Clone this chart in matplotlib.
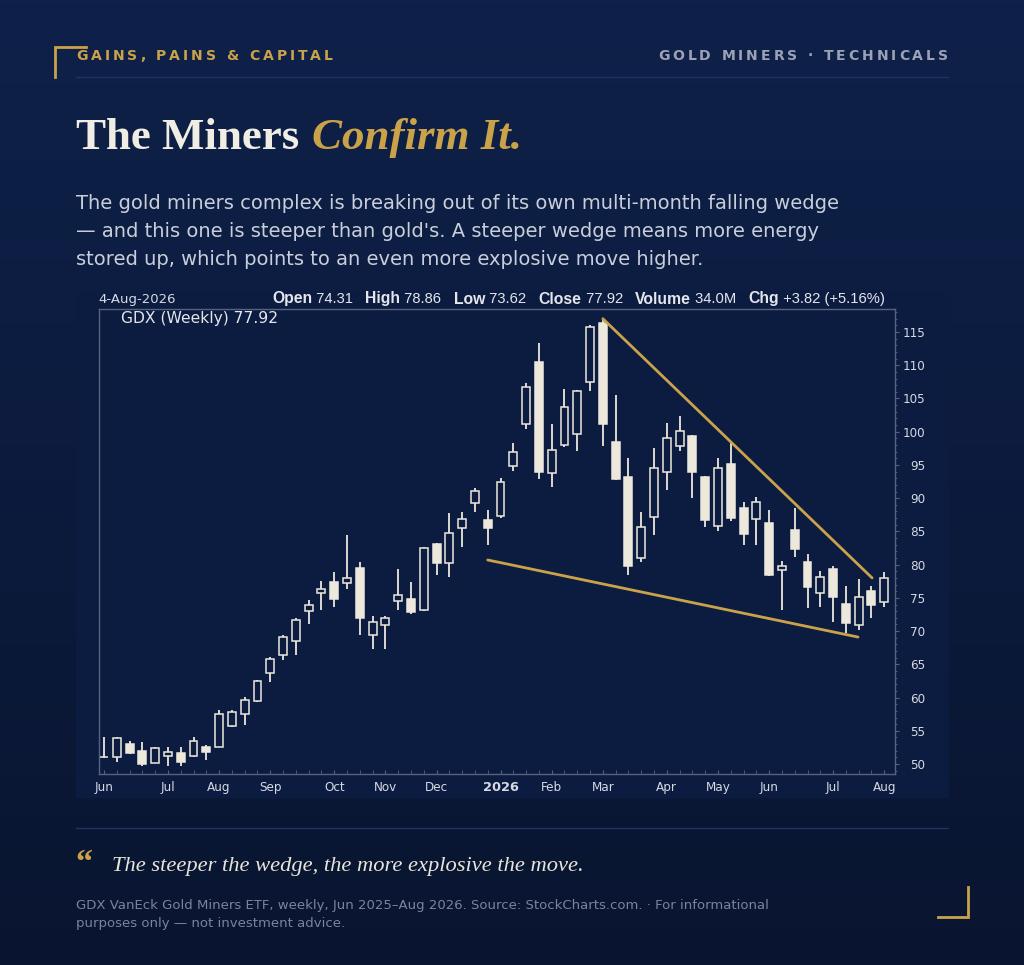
import numpy as np
import pandas as pd
import matplotlib
matplotlib.use("Agg")
import matplotlib.pyplot as plt
from matplotlib.patches import Rectangle

# weekly GDX candles, Jun 2025 - Aug 2026
opens = [51.0, 51.05, 53.0, 52.0, 50.2, 51.2, 51.7, 51.2, 52.6, 52.6,
         55.7, 57.5, 59.5, 63.7, 66.4, 68.5, 73.0, 75.7, 77.4, 77.2,
         79.5, 69.4, 70.9, 74.5, 74.8, 73.2, 83.1, 80.2, 85.5, 89.3,
         86.7, 87.3, 94.8, 101.2, 110.5, 93.8, 98.0, 99.7, 107.5, 116.4,
         98.5, 93.2, 81.0, 87.2, 93.9, 97.8, 99.4, 93.2, 85.8, 95.1,
         88.5, 86.9, 86.3, 79.2, 85.2, 80.4, 75.7, 79.3, 74.1, 70.9,
         76.0, 74.31]
highs = [54.1, 54.1, 53.5, 53.3, 52.5, 52.6, 52.6, 54.1, 52.9, 58.1,
         58.1, 60.1, 62.6, 66.1, 69.4, 72.0, 74.7, 77.5, 78.9, 84.5,
         80.4, 72.3, 72.3, 79.3, 77.4, 82.7, 83.3, 87.8, 87.9, 91.5,
         88.2, 93.0, 98.3, 107.3, 113.3, 101.2, 106.4, 106.3, 116.1, 116.8,
         105.5, 96.0, 87.9, 97.5, 101.3, 102.4, 99.5, 93.3, 96.0, 98.3,
         89.4, 90.2, 88.2, 80.5, 88.5, 81.6, 79.0, 79.8, 76.8, 77.8,
         76.8, 78.86]
lows = [50.9, 50.3, 51.5, 49.7, 50.1, 49.7, 49.7, 51.0, 50.6, 52.5,
        55.5, 55.9, 59.3, 62.3, 65.6, 66.4, 71.1, 73.2, 73.6, 76.3,
        69.4, 67.3, 67.3, 73.2, 72.5, 73.0, 78.4, 78.2, 82.7, 87.9,
        83.0, 87.0, 94.1, 100.4, 92.9, 91.7, 97.7, 97.1, 106.1, 97.8,
        92.7, 78.4, 80.4, 84.5, 91.2, 97.1, 90.0, 85.7, 85.1, 86.6,
        83.0, 83.0, 78.3, 73.2, 81.1, 73.5, 73.6, 71.4, 69.7, 70.2,
        72.0, 73.62]
closes = [51.05, 53.9, 51.6, 50.0, 52.4, 51.8, 50.3, 53.5, 51.8, 57.5,
          57.8, 59.6, 62.5, 65.8, 69.1, 71.7, 73.9, 76.3, 74.8, 78.0,
          72.0, 71.4, 72.0, 75.4, 72.9, 82.5, 80.2, 84.8, 86.9, 91.1,
          85.5, 92.4, 96.9, 106.7, 93.9, 97.2, 103.7, 106.1, 115.8, 101.2,
          92.9, 79.8, 85.7, 94.5, 99.1, 100.1, 93.9, 86.7, 94.5, 87.0,
          84.6, 89.4, 78.4, 79.8, 82.4, 76.6, 78.1, 75.1, 71.2, 75.1,
          73.9, 77.92]
start_week = "2025-06-02"

# falling wedge trendlines (week index, price)
upper_x = [39.0, 60.05]
upper_y = [117.0, 78.0]
lower_x = [30.0, 58.95]
lower_y = [80.7, 69.1]

y_ticks = list(range(50, 120, 5))

info_parts = [("Open", "bold"), (" 74.31   ", "normal"), ("High", "bold"), (" 78.86   ", "normal"),
              ("Low", "bold"), (" 73.62   ", "normal"), ("Close", "bold"), (" 77.92   ", "normal"),
              ("Volume", "bold"), (" 34.0M   ", "normal"), ("Chg", "bold"), (" +3.82 (+5.16%)", "normal")]

body_lines = ["The gold miners complex is breaking out of its own multi-month falling wedge",
              "\u2014 and this one is steeper than gold's. A steeper wedge means more energy",
              "stored up, which points to an even more explosive move higher."]

GOLD = "#c9a24a"
CREAM = "#ece8dc"
PANEL = "#0c1c40"
W, H = 1024, 965
PT = 0.72  # px -> pt at dpi 100

fig = plt.figure(figsize=(W / 100, H / 100), dpi=100)
r = fig.canvas.get_renderer()


def fx(x):
    return x / W


def fy(y):
    return 1 - y / H


def measure(s, **kw):
    t = fig.text(0, 0, s, **kw)
    w = t.get_window_extent(r).width
    t.remove()
    return w


def tracked(x, y, s, px, color, track, ha="left"):
    kw = dict(fontsize=px * PT, fontweight="bold", family="DejaVu Sans")
    space = measure("a a", **kw) - measure("aa", **kw)
    widths = [space if ch == " " else measure(ch, **kw) for ch in s]
    total = sum(widths) + track * (len(s) - 1)
    x0 = x - total if ha == "right" else x
    for ch, w in zip(s, widths):
        if ch != " ":
            fig.text(fx(x0), fy(y), ch, color=color, va="center", ha="left", **kw)
        x0 += w + track


# background
bg = fig.add_axes([0, 0, 1, 1])
bg.set_xlim(0, W)
bg.set_ylim(H, 0)
bg.axis("off")
top = np.array([15, 33, 74]) / 255
bot = np.array([9, 21, 48]) / 255
g = np.linspace(0, 1, 256)[:, None]
grad = (top[None, None, :] * (1 - g[..., None]) + bot[None, None, :] * g[..., None])
grad = np.repeat(grad, 2, axis=1)
bg.imshow(grad, extent=[0, W, H, 0], aspect="auto", zorder=0)
bg.add_patch(Rectangle((76, 292), 872, 505, color=PANEL, zorder=1))
bg.plot([76, 948], [77, 77], color="#22345e", lw=1, zorder=2)
bg.plot([76, 948], [828, 828], color="#22345e", lw=1, zorder=2)
bg.plot([86, 55, 55], [47, 47, 77], color=GOLD, lw=2, solid_joinstyle="miter", zorder=2)
bg.plot([968, 968, 938], [887, 917, 917], color=GOLD, lw=2, solid_joinstyle="miter", zorder=2)

# header
tracked(76, 56, "GAINS, PAINS & CAPITAL", 14, GOLD, 2.9)
tracked(948, 56, "GOLD MINERS \u00b7 TECHNICALS", 14, "#9aa2b6", 2.9, ha="right")

tkw = dict(fontsize=45 * PT, fontweight="bold", family="Liberation Serif")
fig.text(fx(76), fy(149), "The Miners", color="#f0ede5", va="baseline", **tkw)
w1 = measure("The Miners", **tkw)
fig.text(fx(76 + w1 + 13), fy(149), "Confirm It.", color=GOLD, va="baseline",
         style="italic", **tkw)

for k, line in enumerate(body_lines):
    fig.text(fx(76), fy(209 + 28 * k), line, color="#c9ceda", va="baseline",
             fontsize=19.5 * PT, family="DejaVu Sans")

# chart
ax = fig.add_axes([fx(99), fy(774), (895 - 99) / W, (774 - 309) / H])
ax.set_facecolor(PANEL)
n = len(closes)
idx = np.arange(n)
ax.vlines(idx, lows, highs, color=CREAM, lw=1.3, zorder=2)
for i in range(n):
    o, c = opens[i], closes[i]
    up = c >= o
    ax.add_patch(Rectangle((i - 0.31, min(o, c)), 0.62, max(abs(c - o), 0.08),
                           facecolor=PANEL if up else CREAM, edgecolor=CREAM,
                           lw=1.1, zorder=3))
ax.plot(upper_x, upper_y, color=GOLD, lw=2, solid_capstyle="round", zorder=4)
ax.plot(lower_x, lower_y, color=GOLD, lw=2, solid_capstyle="round", zorder=4)

ax.set_xlim(-0.39, 61.84)
ax.set_ylim(48.5, 118.46)
for sp in ax.spines.values():
    sp.set_color("#56627e")
    sp.set_linewidth(1)

ax.yaxis.tick_right()
ax.set_yticks(y_ticks)
ax.set_yticks(np.arange(49, 119, 1), minor=True)
ax.tick_params(axis="y", which="major", direction="out", length=3, color="#56627e",
               pad=18.6, labelsize=12 * PT, labelcolor="#d5d9e2")
ax.tick_params(axis="y", which="minor", direction="out", length=1.5, color="#56627e")
for lab in ax.get_yticklabels():
    lab.set_ha("right")

dates = pd.date_range(start_week, periods=n, freq="W-MON")
month_idx = [0] + [i for i in range(1, n) if dates[i].month != dates[i - 1].month]
month_lab = ["2026" if dates[i].month == 1 else dates[i].strftime("%b") for i in month_idx]
ax.set_xticks(month_idx)
ax.set_xticklabels(month_lab)
ax.set_xticks(idx, minor=True)
ax.tick_params(axis="x", which="both", direction="in", length=3, color="#56627e",
               pad=5, labelsize=12 * PT, labelcolor="#d5d9e2")
for lab in ax.get_xticklabels():
    if lab.get_text() == "2026":
        lab.set_fontweight("bold")
        lab.set_fontsize(13 * PT)

# chart header texts
fig.text(fx(98), fy(299), "4-Aug-2026", color="#d5d9e2", va="center",
         fontsize=13.2 * PT, family="DejaVu Sans")
xx = 272
for s, wt in info_parts:
    kw = dict(fontsize=15.8 * PT if wt == "bold" else 14.8 * PT, fontweight=wt,
              family="Liberation Sans")
    fig.text(fx(xx), fy(299), s, color="#e4e6ec", va="center", **kw)
    xx += measure(s.replace(" ", "\u00a0"), **kw)

fig.text(fx(121), fy(318), "GDX (Weekly) 77.92", color="#e4e6ec", va="center",
         fontsize=15.5 * PT, family="DejaVu Sans")
bg.add_patch(Rectangle((105, 314), 3, 7, facecolor=CREAM, edgecolor=CREAM, lw=0.5, zorder=5))
bg.add_patch(Rectangle((111, 313), 3, 8, facecolor="none", edgecolor=CREAM, lw=0.8, zorder=5))

# quote + footnote
fig.text(fx(75), fy(872), "\u201c", color=GOLD, va="baseline", fontsize=34 * PT,
         fontweight="bold", family="Liberation Serif")
fig.text(fx(112), fy(871), "The steeper the wedge, the more explosive the move.",
         color="#e8e4da", va="baseline", fontsize=22.5 * PT, style="italic",
         family="Liberation Serif")
fig.text(fx(76), fy(906), "GDX VanEck Gold Miners ETF, weekly, Jun 2025\u2013Aug 2026. "
         "Source: StockCharts.com. \u00b7 For informational", color="#7b849a", va="center",
         fontsize=13.3 * PT, family="DejaVu Sans")
fig.text(fx(76), fy(924), "purposes only \u2014 not investment advice.", color="#7b849a",
         va="center", fontsize=13.3 * PT, family="DejaVu Sans")

fig.savefig("out.png", dpi=100, facecolor=fig.get_facecolor())
